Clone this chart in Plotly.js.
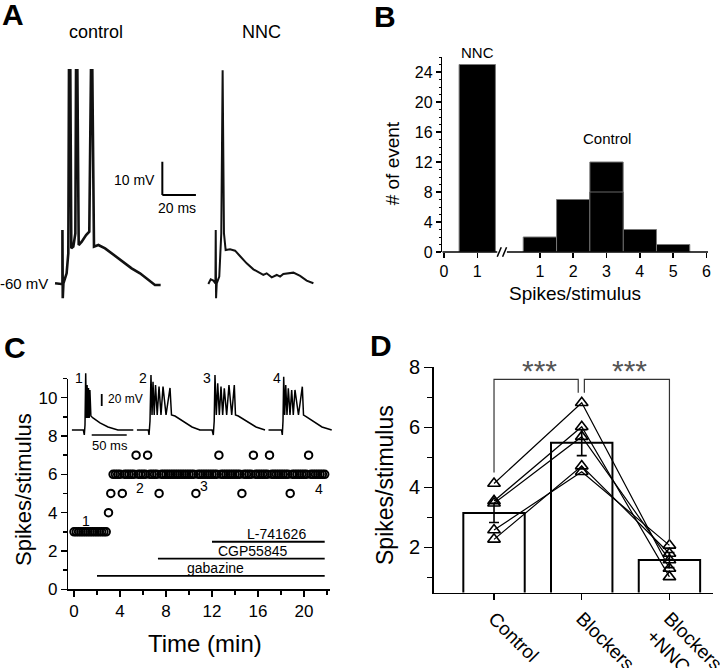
<!DOCTYPE html>
<html><head><meta charset="utf-8">
<script src="https://cdn.plot.ly/plotly-3.0.1.min.js"></script>
<style>html,body{margin:0;padding:0;background:#fff}#chart{width:720px;height:668px}</style>
</head><body><div id="chart"></div>
<script>
// ---------------- Panel A: membrane potential traces (ms, mV) ----------------
const controlTimeMs = [0,3.6,4.4,4.4,4.6,5.0,6.9,7.9,8.3,9.1,9.7,10.9,12.1,12.5,13.3,14.1,15.9,18.5,20.4,21.4,22.2,23.2,25.8,29.8,33.7,37.7,41.7,45.6,50.6,55.6,59.5,62.9];
const controlVm     = [-60,-60.2,-60,-44,-64.5,-60,-57,-51,4,4,-49.5,-49,-45,4,4,-48.5,-47.5,-45.5,-44.5,4,4,-49,-48.5,-49.5,-51,-52.5,-54,-55.5,-57,-59,-60.5,-60.5];
const nncTimeMs = [0,1.4,3.0,4.2,4.4,4.6,5.0,6.5,7.7,8.5,9.3,10.3,12.9,15.9,18.8,22.8,26.8,30.8,32.7,34.7,37.7,40.7,42.7,44.6,47.6,50.6,54.6,58.5,62.5];
const nncVm     = [-60.2,-58.8,-59.2,-60,-44,-64.5,-60,-58,-45,4,-45,-50,-49.8,-50.2,-51.8,-54,-55.8,-56.8,-57.5,-57,-58.2,-57.5,-58,-57.2,-57,-56.8,-57.8,-59.2,-60];

// ---------------- Panel B: histogram of spikes/stimulus ----------------
const nncSpikeBins = [1];
const nncEventCounts = [25];
const controlSpikeBins = [1,2,3,4,5];
const controlEventCounts = [2,7,12,3,1];
const controlInnerBins = [3];
const controlInnerCounts = [8];
const nncTickLabels = [0,1];
const controlTickLabels = [1,2,3,4,5,6];

// ---------------- Panel C: time course ----------------
const timeMin = [0,0.2,0.4,0.6,0.8,1,1.2,1.4,1.6,1.8,2,2.2,2.4,2.6,2.8,3,3.2,3.4,3.6,3.8,4,4.2,4.4,4.6,4.8,5,5.2,5.4,5.6,5.8,6,6.2,6.4,6.6,6.8,7,7.2,7.4,7.6,7.8,8,8.2,8.4,8.6,8.8,9,9.2,9.4,9.6,9.8,10,10.2,10.4,10.6,10.8,11,11.2,11.4,11.6,11.8,12,12.2,12.4,12.6,12.8,13,13.2,13.4,13.6,13.8,14,14.2,14.4,14.6,14.8,15,15.2,15.4,15.6,15.8,16,16.2,16.4,16.6,16.8,17,17.2,17.4,17.6,17.8,18,18.2,18.4,18.6,18.8,19,19.2,19.4,19.6,19.8,20,20.2,20.4,20.6,20.8,21,21.2,21.4,21.6,21.8];
const spikesPerStim = [3,3,3,3,3,3,3,3,3,3,3,3,3,3,3,4,5,6,6,6,6,5,6,6,6,6,6,7,6,6,6,6,7,6,6,6,6,5,6,6,6,6,6,6,6,6,6,6,6,6,6,6,6,5,6,6,6,6,6,6,6,6,6,7,6,6,6,6,6,6,6,6,6,5,6,6,6,6,7,6,6,6,6,6,6,7,6,6,6,6,6,6,6,6,5,6,6,6,6,6,6,6,7,6,6,6,6,6,6,6];
const drugNames = ["gabazine","CGP55845","L-741626"];
const drugStartMin = [2.0,7.3,12.0];
const drugEndMin = [21.8,21.8,21.8];
const drugLevel = [0.7,1.6,2.48];
const sweepLabels = ["1","2","3","4"];
const sweepLabelTime = [1.0,5.7,11.3,21.3];
const sweepLabelValue = [3.58,5.29,5.4,5.23];
// inset sweeps (ms, mV)
const sweep1T = [0,16.6,18,19,20,21,22,23,24,25,26,27.4,30.4,40.4,51.9,66,88];
const sweep1V = [-60,-60,-68.3,-51.7,34.5,-40,15,-40,10,-40,6.7,-36.7,-40,-48.3,-55,-60,-60];
const sweep2T = [0,16.6,17.6,19,20.4,21.9,23.3,25,26.9,29.3,31.9,34.7,37.6,41.9,47.6,49.7,54.7,66.1,79,90.4];
const sweep2V = [-60,-60,-68.3,-45,31.7,-35,20.5,-35,15,-35,12.2,-35,12.2,-35,10,-35,-36.7,-45,-55,-60];
const sweep3T = [0,18.3,20,21.3,22.4,24.3,26.3,28.6,31,33.4,35.7,39.1,42.4,46.3,50,51.7,55.7,66.7,81,93.9];
const sweep3V = [-60,-60,-68.3,-45,31.7,-35,17.8,-35,12.2,-35,9.5,-35,15,-35,15,-35,-36.7,-45,-55,-60];
const sweep4T = [0,18.9,20,21,22,23.4,24.9,26.7,28.6,31,33.4,35.7,38.1,43.1,48.6,50.3,52.4,63.9,76.7,90.6];
const sweep4V = [-60,-60,-68.3,-45,28.8,-35,15,-35,9.5,-35,6.7,-35,6.7,-35,12.2,-35,-36.7,-45,-55,-60];

// ---------------- Panel D: summary ----------------
const groups = ["Control","Blockers","Blockers<br>+NNC"];
const groupMeans = [3.15,5.49,1.58];
const groupSem = [0.32,0.43,0.25];
const cell1 = [4.13,6.82,1.30];
const cell2 = [3.55,6.02,1.02];
const cell3 = [3.47,5.69,1.58];
const cell4 = [2.58,4.52,2.07];
const cell5 = [2.27,4.71,1.80];
const cells = [cell1,cell2,cell3,cell4,cell5];

// ---------------- layout helpers ----------------
const W = 720, H = 668;
const FONT = "Liberation Sans, Arial, Helvetica, sans-serif";
const fx = px => px / W;
const fy = py => 1 - py / H;
const histShift = 1.88;   // broken-axis offset for the control histogram

const traces = [];
// A
traces.push({x: controlTimeMs, y: controlVm, xaxis:'x', yaxis:'y', mode:'lines', line:{color:'#111', width:2.6}, hoverinfo:'skip'});
traces.push({x: nncTimeMs, y: nncVm, xaxis:'x2', yaxis:'y2', mode:'lines', line:{color:'#111', width:2}, hoverinfo:'skip'});
// B
traces.push({type:'bar', x: nncSpikeBins, y: nncEventCounts, width: 1.09, xaxis:'x3', yaxis:'y3',
  marker:{color:'#000', line:{color:'#777', width:1}}});
traces.push({type:'bar', x: controlSpikeBins.map(v => v + histShift), y: controlEventCounts, width: 1.0, xaxis:'x3', yaxis:'y3',
  marker:{color:'#000', line:{color:'#777', width:1}}});
traces.push({type:'bar', x: controlInnerBins.map(v => v + histShift), y: controlInnerCounts, width: 1.0, xaxis:'x3', yaxis:'y3',
  marker:{color:'#000', line:{color:'#666', width:1}}});
// C drug bars
drugNames.forEach((n, i) => {
  traces.push({x:[drugStartMin[i], drugEndMin[i]], y:[drugLevel[i], drugLevel[i]], xaxis:'x4', yaxis:'y4', mode:'lines', line:{color:'#000', width:1.8}, hoverinfo:'skip'});
});
// C scatter
traces.push({x: timeMin, y: spikesPerStim, xaxis:'x4', yaxis:'y4', mode:'markers',
  marker:{symbol:'circle-open', size:7.5, color:'#000', line:{width:2, color:'#000'}}});
// C insets
[[sweep1T,sweep1V,'x5'],[sweep2T,sweep2V,'x6'],[sweep3T,sweep3V,'x7'],[sweep4T,sweep4V,'x8']].forEach(s => {
  traces.push({x:s[0], y:s[1], xaxis:s[2], yaxis:'y5', mode:'lines', line:{color:'#000', width:1.5}, hoverinfo:'skip'});
});
// D bars
traces.push({type:'bar', x: groups, y: groupMeans, width:0.7, xaxis:'x9', yaxis:'y9',
  marker:{color:'#fff', line:{color:'#000', width:2}},
  error_y:{type:'data', array: groupSem, visible:true, color:'#000', thickness:1.6, width:5}});
cells.forEach(c => {
  traces.push({x: groups, y: c, xaxis:'x9', yaxis:'y9', mode:'lines+markers',
    line:{color:'#000', width:1.2},
    marker:{symbol:'triangle-up-open', size:11, color:'#000', line:{width:1.6, color:'#000'}}});
});

const hidden = (dom, rng) => ({domain: dom, range: rng, visible:false, fixedrange:true});
const axStyle = {showline:true, linecolor:'#000', linewidth:1.5, ticks:'outside', tickcolor:'#000', tickwidth:1.5,
  showgrid:false, zeroline:false, tickfont:{family:FONT, size:16, color:'#000'}};

const layout = {
  width: W, height: H, margin:{l:0,r:0,t:0,b:0},
  paper_bgcolor:'#fff', plot_bgcolor:'rgba(0,0,0,0)', showlegend:false,
  font:{family:FONT, color:'#000'}, barmode:'overlay',
  // A
  xaxis: Object.assign(hidden([fx(50), fx(202.8)], [-3, 88]), {anchor:'y'}),
  yaxis: Object.assign(hidden([fy(316.6), fy(50.2)], [-70, 10]), {anchor:'x'}),
  xaxis2: Object.assign(hidden([fx(203.3), fx(326)], [-3, 70]), {anchor:'y2'}),
  yaxis2: Object.assign(hidden([fy(316.6), fy(50.2)], [-70, 10]), {anchor:'x2'}),
  // B
  xaxis3: Object.assign({}, axStyle, {domain:[fx(442.3), fx(708.1)], range:[-0.05, 7.93], anchor:'y3', showline:false,
    tickmode:'array',
    tickvals: nncTickLabels.concat(controlTickLabels.map(v => v + histShift)),
    ticktext: nncTickLabels.concat(controlTickLabels).map(String), ticklen:5}),
  yaxis3: Object.assign({}, axStyle, {domain:[fy(252), fy(57)], range:[0, 26], anchor:'x3', tick0:0, dtick:4, ticklen:5,
    minor:{ticks:'outside', dtick:1, ticklen:2, tickcolor:'#000', tickwidth:1}}),
  // C
  xaxis4: Object.assign({}, axStyle, {domain:[fx(68.25), fx(330.45)], range:[-0.5, 22.3], anchor:'y4', tick0:0, dtick:4, ticklen:6,
    tickfont:{family:FONT, size:17}, minor:{ticks:'outside', dtick:2, ticklen:4, tickcolor:'#000', tickwidth:1.5}}),
  yaxis4: Object.assign({}, axStyle, {domain:[fy(589.3), fy(378.5)], range:[0, 11], anchor:'x4', tick0:0, dtick:2, ticklen:6,
    tickfont:{family:FONT, size:17}, minor:{ticks:'outside', dtick:1, ticklen:4, tickcolor:'#000', tickwidth:1.5}}),
  xaxis5: Object.assign(hidden([fx(71.7), fx(138.2)], [0, 95]), {anchor:'y5'}),
  xaxis6: Object.assign(hidden([fx(136.7), fx(203.2)], [0, 95]), {anchor:'y5'}),
  xaxis7: Object.assign(hidden([fx(199.3), fx(265.8)], [0, 95]), {anchor:'y5'}),
  xaxis8: Object.assign(hidden([fx(268.3), fx(334.8)], [0, 95]), {anchor:'y5'}),
  yaxis5: Object.assign(hidden([fy(440), fy(365)], [-76.7, 48.3]), {anchor:'x5'}),
  // D
  xaxis9: Object.assign({}, axStyle, {domain:[fx(433.5), fx(713.3)], range:[-0.69, 2.5], anchor:'y9', type:'category',
    ticklen:6, tickangle:45, tickfont:{family:FONT, size:19}}),
  yaxis9: Object.assign({}, axStyle, {domain:[fy(592.5), fy(367.3)], range:[0.5, 8], anchor:'x9', tick0:0, dtick:2, ticklen:8,
    tickfont:{family:FONT, size:20}, minor:{ticks:'outside', dtick:1, ticklen:5, tickcolor:'#000', tickwidth:1.5}}),
  shapes: [], annotations: []
};

const S = layout.shapes, A = layout.annotations;
// A scale bar (10 mV, 20 ms)
const barX0 = 63.9, barY0 = -33.5;
S.push({type:'line', xref:'x', yref:'y', x0:barX0, x1:barX0, y0:barY0, y1:barY0+10, line:{color:'#000', width:2}});
S.push({type:'line', xref:'x', yref:'y', x0:barX0, x1:barX0+20, y0:barY0, y1:barY0, line:{color:'#000', width:2}});
// B broken x axis
const by = fy(252);
S.push({type:'line', xref:'x3', yref:'paper', x0:-0.05, x1:1.6, y0:by, y1:by, line:{color:'#000', width:1.5}});
S.push({type:'line', xref:'x3', yref:'paper', x0:1.89, x1:7.93, y0:by, y1:by, line:{color:'#000', width:1.5}});
S.push({type:'line', xref:'x3', yref:'paper', x0:1.6, x1:1.72, y0:by-0.007, y1:by+0.007, line:{color:'#000', width:1.5}});
S.push({type:'line', xref:'x3', yref:'paper', x0:1.76, x1:1.88, y0:by-0.007, y1:by+0.007, line:{color:'#000', width:1.5}});
// C inset scale bars (20 mV, 50 ms)
S.push({type:'line', xref:'x5', yref:'y5', x0:42.9, x1:42.9, y0:-20, y1:0, line:{color:'#000', width:1.8}});
S.push({type:'line', xref:'x5', yref:'y5', x0:28.6, x1:78.6, y0:-68.3, y1:-68.3, line:{color:'#000', width:1.5}});
// D significance brackets
S.push({type:'path', xref:'x9', yref:'y9', path:'M0,4.5 L0,7.6 L0.96,7.6 L0.96,7.15', line:{color:'#333', width:1.2}});
S.push({type:'path', xref:'x9', yref:'y9', path:'M1.03,7.15 L1.03,7.6 L2,7.6 L2,2.22', line:{color:'#333', width:1.2}});

const ann = (o) => {
  const a = Object.assign({showarrow:false, xanchor:'center', yanchor:'middle'}, o);
  a.font = Object.assign({family:FONT, size:14, color:'#000'}, o.font || {});
  A.push(a);
};
// panel letters
[['A',0,15],['B',372,17],['C',2,347],['D',368,345]].forEach(p => ann({text:'<b>'+p[0]+'</b>', xref:'paper', yref:'paper', x:fx(p[1]), y:fy(p[2]), xanchor:'left', font:{size:30}}));
// A texts
ann({text:'control', xref:'paper', yref:'paper', x:fx(95.7), y:fy(31.7), font:{size:18}});
ann({text:'NNC', xref:'paper', yref:'paper', x:fx(261.7), y:fy(31.7), font:{size:18}});
ann({text:'10 mV', xref:'x', yref:'y', x:60.5, y:-29, xanchor:'right', font:{size:14}});
ann({text:'20 ms', xref:'x', yref:'y', x:72.6, y:-37.5, font:{size:14}});
ann({text:'-60 mV', xref:'paper', yref:'y', x:fx(50), y:-60, xanchor:'right', font:{size:15}});
// B texts
ann({text:'NNC', xref:'x3', yref:'paper', x:1, y:fy(52), font:{size:15}});
ann({text:'Control', xref:'x3', yref:'y3', x:4.89, y:15.07, font:{size:15}});
ann({text:'# of event', xref:'paper', yref:'paper', x:fx(392), y:fy(163.3), textangle:-90, font:{size:19}});
ann({text:'Spikes/stimulus', xref:'paper', yref:'paper', x:fx(575), y:fy(293), font:{size:19}});
// C texts
ann({text:drugNames[0], xref:'x4', yref:'y4', x:12.3, y:1.1, font:{size:14}});
ann({text:drugNames[1], xref:'x4', yref:'y4', x:15.5, y:2.0, font:{size:14}});
ann({text:drugNames[2], xref:'x4', yref:'y4', x:17.6, y:2.88, font:{size:14}});
sweepLabels.forEach((s, i) => ann({text:s, xref:'x4', yref:'y4', x:sweepLabelTime[i], y:sweepLabelValue[i], font:{size:14, color:'#000'}}));
[78.7, 142.7, 207.3, 276.7].forEach((px, i) => ann({text:sweepLabels[i], xref:'paper', yref:'paper', x:fx(px), y:fy(378.3), font:{size:14}}));
ann({text:'20 mV', xref:'x5', yref:'y5', x:49, y:-8.3, xanchor:'left', font:{size:12}});
ann({text:'50 ms', xref:'x5', yref:'paper', x:54.7, y:fy(445), font:{size:13}});
ann({text:'Spikes/stimulus', xref:'paper', yref:'paper', x:fx(24), y:fy(490), textangle:-90, font:{size:22}});
ann({text:'Time (min)', xref:'paper', yref:'paper', x:fx(205), y:fy(643), font:{size:24}});
// D texts
ann({text:'***', xref:'x9', yref:'y9', x:0.52, y:7.9, font:{size:30, color:'#555'}});
ann({text:'***', xref:'x9', yref:'y9', x:1.55, y:7.9, font:{size:30, color:'#555'}});
ann({text:'Spikes/stimulus', xref:'paper', yref:'paper', x:fx(385), y:fy(485), textangle:-90, font:{size:23}});

Plotly.newPlot('chart', traces, layout, {staticPlot:true, displayModeBar:false});
</script></body></html>
